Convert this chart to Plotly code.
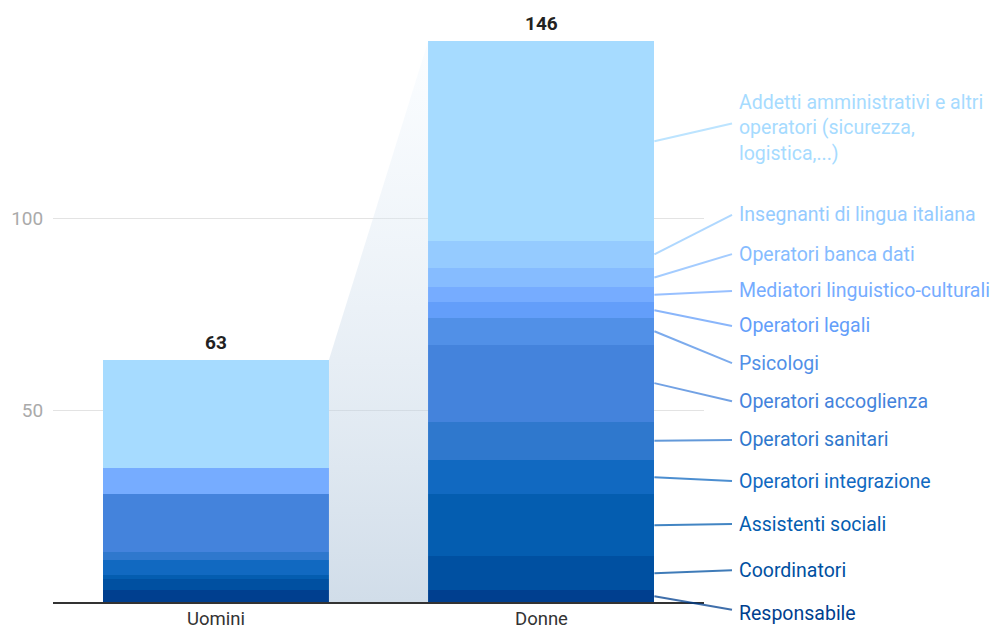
import plotly.graph_objects as go

# ---- data ----
categories = ["Uomini", "Donne"]
roles = [
    "Responsabile",
    "Coordinatori",
    "Assistenti sociali",
    "Operatori integrazione",
    "Operatori sanitari",
    "Operatori accoglienza",
    "Psicologi",
    "Operatori legali",
    "Mediatori linguistico-culturali",
    "Operatori banca dati",
    "Insegnanti di lingua italiana",
    "Addetti amministrativi e altri<br>operatori (sicurezza,<br>logistica,...)",
]
uomini = [3, 3, 1, 4, 2, 15, 0, 0, 7, 0, 0, 28]
donne = [3, 9, 16, 9, 10, 20, 7, 4, 4, 5, 7, 52]
y_ticks = [50, 100]

# ---- style ----
colors = [
    "#003F8F", "#0050A1", "#045DB0", "#1169C1", "#2F78CD", "#4483DC",
    "#5190E7", "#639EFA", "#76ACFF", "#86BCFF", "#95CBFF", "#A6DBFF",
]
# label vertical positions (in y-axis units), spread to avoid overlap
label_y = [-2.9, 8.3, 20.3, 31.5, 42.2, 52.3, 62.2, 71.9, 81.0, 90.6, 100.8, 123.4]
line_end_y = [-2.0, 8.3, 20.3, 31.5, 42.2, 52.3, 62.2, 71.9, 81.0, 90.6, 100.8, 124.6]

FONT = "Roboto, Arial, sans-serif"
BAR_W = 0.695
XMIN, XMAX = -0.5, 1.5
YMAX = 150
LABEL_X = 1.051
LINE_END_X = 1.043

xpos = list(range(len(categories)))
tot_u = sum(uomini)
tot_d = sum(donne)

fig = go.Figure()

# connector between the two bars
xr_u = xpos[0] + BAR_W / 2
xl_d = xpos[1] - BAR_W / 2
fig.add_trace(go.Scatter(
    x=[xr_u, xl_d, xl_d, xr_u, xr_u],
    y=[tot_u, tot_d, 0, 0, tot_u],
    mode="lines", line=dict(width=0), fill="toself",
    fillgradient=dict(type="vertical",
                      colorscale=[[0, "rgba(171,193,215,0.55)"],
                                  [1, "rgba(240,248,255,0.3)"]]),
    hoverinfo="skip", showlegend=False,
))

for name, u, d, c in zip(roles, uomini, donne, colors):
    fig.add_trace(go.Bar(
        x=xpos, y=[u, d], width=BAR_W, name=name,
        marker=dict(color=c, line=dict(width=0)),
        hoverinfo="skip", showlegend=False,
    ))

# totals
for xi, tot in zip(xpos, [tot_u, tot_d]):
    fig.add_annotation(x=xi, y=tot, xref="x", yref="y", text=f"<b>{tot}</b>",
                       showarrow=False, yanchor="middle", yshift=18,
                       font=dict(family=FONT, size=19, color="#222222"))

# category labels under the bars
for xi, cat in zip(xpos, categories):
    fig.add_annotation(x=xi, y=0, xref="x", yref="paper", text=cat,
                       showarrow=False, yanchor="middle", yshift=-17,
                       font=dict(family=FONT, size=18.5, color="#333333"))

# labels and leader lines for the Donne bar
bar_right_paper = (xpos[1] + BAR_W / 2 - XMIN) / (XMAX - XMIN)
cum = 0
for name, d, c, ly, ey in zip(roles, donne, colors, label_y, line_end_y):
    mid = cum + d / 2
    cum += d
    fig.add_shape(type="line", xref="paper", yref="paper",
                  x0=bar_right_paper, y0=mid / YMAX,
                  x1=LINE_END_X, y1=ey / YMAX,
                  line=dict(color=c, width=2), opacity=0.75, layer="above")
    fig.add_annotation(x=LABEL_X, y=ly / YMAX, xref="paper", yref="paper",
                       text=name, showarrow=False, xanchor="left",
                       yanchor="middle", align="left",
                       font=dict(family=FONT, size=19.5, color=c))

fig.update_layout(
    width=993, height=630,
    margin=dict(l=53, r=289, t=26, b=28),
    barmode="stack", bargap=0,
    plot_bgcolor="white", paper_bgcolor="white",
    font=dict(family=FONT),
    xaxis=dict(range=[XMIN, XMAX], tickvals=xpos, showticklabels=False,
               showgrid=False, zeroline=False, showline=True,
               linecolor="#333333", linewidth=1.5, automargin=False,
               ticks=""),
    yaxis=dict(range=[0, YMAX], tickvals=y_ticks, showgrid=True,
               gridcolor="#e3e3e3", gridwidth=1, zeroline=False,
               showline=False, ticks="outside", ticklen=5, automargin=False,
               tickcolor="rgba(0,0,0,0)",
               tickfont=dict(family=FONT, size=19, color="#aaaaaa")),
)

fig.write_html(
    "out.html",
    config={"displayModeBar": False},
    post_script="document.body.style.margin='0';document.body.style.overflow='hidden';",
)
